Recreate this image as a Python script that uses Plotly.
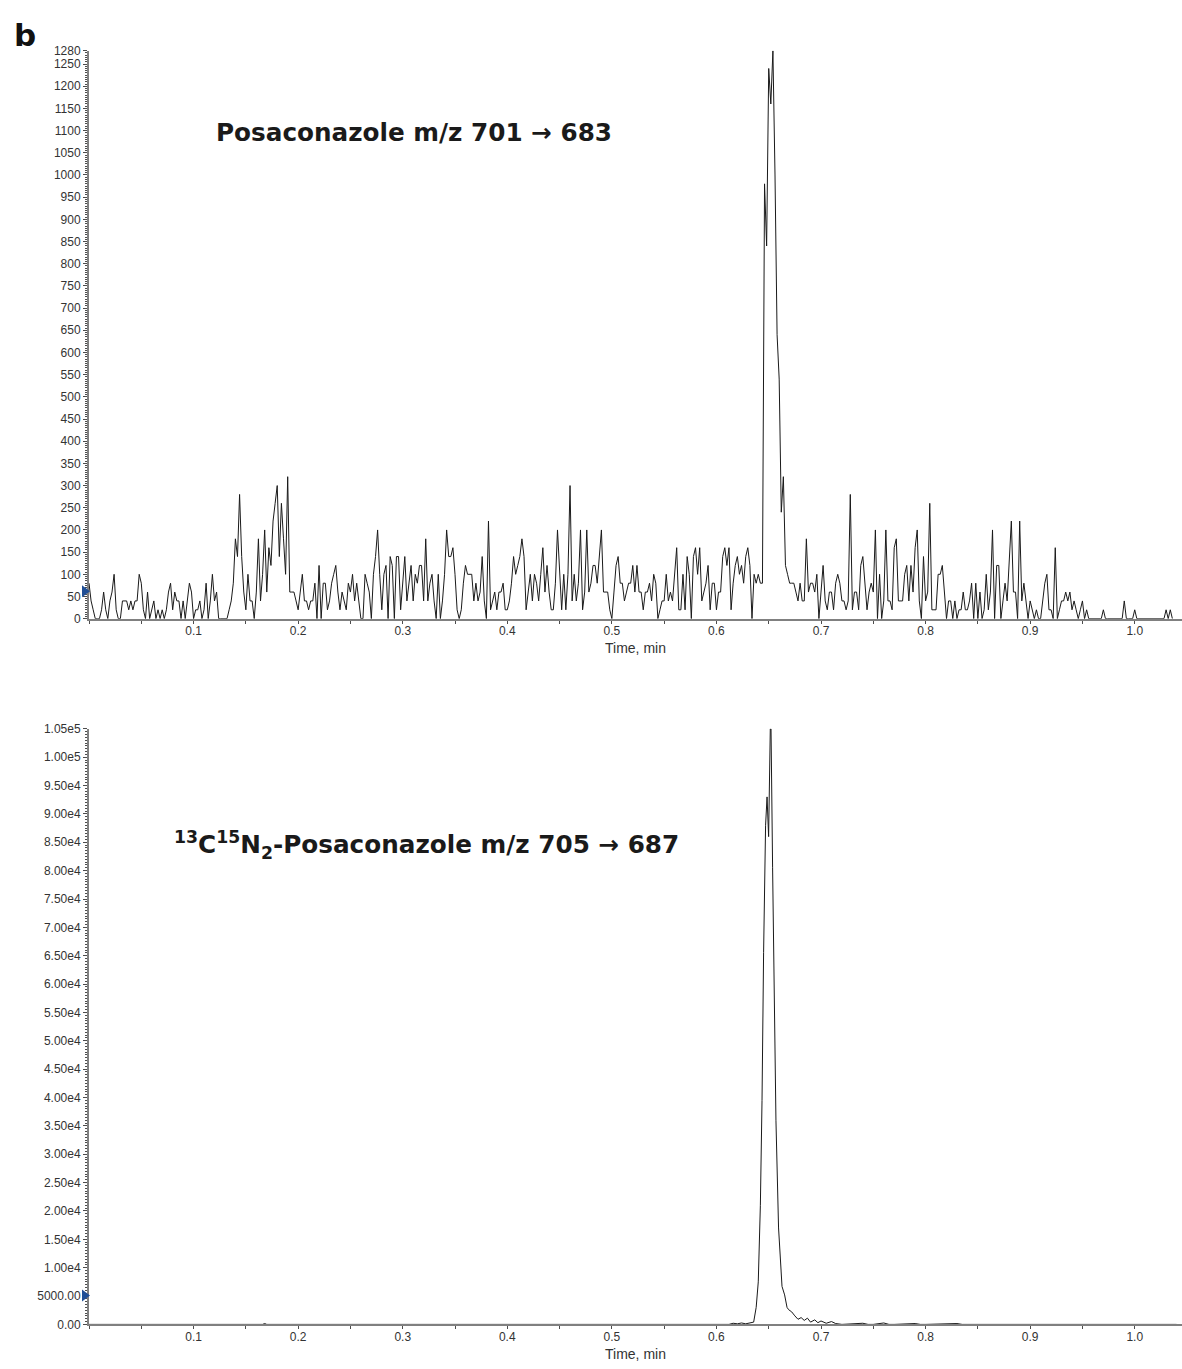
import plotly.graph_objects as go

# ---------------- data ----------------
# Analyte trace (Posaconazole m/z 701 -> 683), sampled every 0.002 min
DT = 0.002
top_counts = [
    80, 40, 20, 0, 0, 0, 20, 60, 20, 0,
    40, 60, 100, 20, 0, 0, 40, 40, 40, 20,
    40, 20, 40, 40, 100, 80, 20, 0, 60, 0,
    20, 40, 0, 20, 0, 20, 0, 20, 60, 80,
    20, 60, 40, 40, 0, 40, 0, 40, 80, 60,
    0, 20, 20, 40, 0, 20, 80, 0, 40, 100,
    40, 60, 0, 0, 0, 0, 0, 20, 40, 80,
    180, 140, 280, 140, 60, 20, 100, 40, 40, 0,
    60, 180, 40, 100, 200, 60, 160, 120, 220, 260,
    300, 140, 260, 180, 100, 320, 60, 60, 60, 40,
    20, 60, 100, 40, 40, 20, 40, 40, 80, 0,
    120, 0, 80, 80, 20, 40, 80, 100, 120, 60,
    20, 60, 40, 20, 80, 60, 100, 40, 80, 40,
    0, 0, 100, 80, 60, 0, 100, 140, 200, 100,
    20, 100, 120, 0, 140, 120, 0, 140, 140, 20,
    80, 140, 40, 80, 120, 40, 100, 80, 120, 120,
    40, 180, 40, 80, 100, 40, 0, 100, 0, 40,
    100, 200, 140, 140, 160, 100, 20, 0, 20, 80,
    120, 100, 100, 100, 40, 80, 40, 60, 140, 40,
    0, 220, 20, 40, 60, 20, 60, 60, 80, 20,
    20, 40, 80, 140, 100, 120, 140, 180, 140, 20,
    60, 100, 40, 100, 80, 40, 100, 160, 60, 120,
    60, 20, 20, 80, 200, 100, 20, 100, 20, 100,
    300, 40, 100, 40, 80, 200, 20, 60, 200, 60,
    80, 120, 120, 80, 140, 200, 60, 60, 60, 20,
    0, 60, 120, 140, 80, 80, 40, 60, 80, 80,
    120, 60, 120, 60, 60, 20, 60, 60, 80, 40,
    100, 80, 0, 20, 40, 40, 100, 40, 60, 40,
    100, 160, 20, 20, 100, 20, 140, 100, 0, 140,
    160, 100, 160, 40, 60, 80, 120, 20, 80, 80,
    20, 60, 60, 140, 160, 120, 160, 20, 80, 120,
    140, 100, 120, 80, 140, 160, 120, 0, 100, 80,
    100, 80, 80, 980, 840, 1240, 1160, 1280, 1000, 640,
    540, 240, 320, 120, 100, 80, 80, 80, 60, 40,
    80, 40, 40, 180, 60, 80, 80, 60, 100, 0,
    60, 120, 40, 20, 60, 60, 20, 80, 100, 80,
    40, 40, 20, 40, 280, 20, 60, 60, 20, 120,
    140, 80, 20, 60, 80, 60, 200, 0, 100, 0,
    40, 200, 40, 40, 20, 160, 180, 40, 40, 40,
    100, 120, 40, 120, 60, 160, 200, 40, 0, 140,
    40, 60, 260, 20, 20, 20, 100, 100, 120, 60,
    0, 40, 40, 0, 40, 0, 20, 20, 60, 20,
    20, 40, 80, 0, 80, 0, 60, 0, 20, 100,
    20, 60, 200, 0, 120, 120, 0, 40, 80, 40,
    120, 220, 60, 60, 0, 220, 40, 80, 40, 0,
    40, 20, 0, 20, 0, 0, 40, 80, 100, 20,
    20, 0, 160, 0, 20, 40, 40, 60, 40, 60,
    20, 40, 20, 0, 20, 40, 0, 20, 0, 0,
    0, 0, 0, 0, 0, 20, 0, 0, 0, 0,
    0, 0, 0, 0, 0, 40, 0, 0, 0, 0,
    20, 0, 0, 0, 0, 0, 0, 0, 0, 0,
    0, 0, 0, 0, 0, 20, 0, 20, 0,
]
top_time = [round(i * DT, 4) for i in range(len(top_counts))]

# Internal standard trace (13C15N2-Posaconazole m/z 705 -> 687)
is_time = [0.0, 0.166, 0.168, 0.170, 0.612, 0.616, 0.620, 0.624, 0.628, 0.632,
           0.6356, 0.638, 0.640, 0.642, 0.6436, 0.6451, 0.647, 0.6484, 0.6499,
           0.6515, 0.6522, 0.6537, 0.6553, 0.6569, 0.6594, 0.6627, 0.6652,
           0.6675, 0.669, 0.672, 0.675, 0.678, 0.681, 0.684, 0.687, 0.690,
           0.694, 0.697, 0.700, 0.705, 0.710, 0.714, 0.720, 0.740, 0.745,
           0.750, 0.760, 0.765, 0.770, 0.790, 0.795, 0.800, 0.830, 0.835,
           0.840, 1.040]
is_counts = [0, 0, 150, 0, 0, 200, 100, 250, 100, 200,
             400, 3000, 7500, 21000, 39500, 65600, 88000, 93000, 86000,
             105000, 105000, 80500, 58000, 36000, 17000, 6700, 5200,
             3000, 2600, 2200, 1500, 900, 1200, 700, 1100, 400,
             800, 300, 600, 200, 500, 150, 0, 200, 0,
             0, 250, 0, 0, 150, 0, 0, 150, 0,
             0, 0]

# threshold markers on the y axes
top_marker_y = [62]
is_marker_y = [5100]

# tick labels
x_tick_vals = [0.1, 0.2, 0.3, 0.4, 0.5, 0.6, 0.7, 0.8, 0.9, 1.0]
x_tick_text = ["0.1", "0.2", "0.3", "0.4", "0.5", "0.6", "0.7", "0.8", "0.9", "1.0"]
top_y_vals = list(range(0, 1251, 50)) + [1280]
top_y_text = [str(v) for v in top_y_vals]
is_y_vals = [0, 5000] + [v * 5000 for v in range(2, 22)]
is_y_text = ["0.00", "5000.00", "1.00e4", "1.50e4", "2.00e4", "2.50e4", "3.00e4",
             "3.50e4", "4.00e4", "4.50e4", "5.00e4", "5.50e4", "6.00e4", "6.50e4",
             "7.00e4", "7.50e4", "8.00e4", "8.50e4", "9.00e4", "9.50e4", "1.00e5",
             "1.05e5"]

# ---------------- figure ----------------
W, H = 1182, 1369
LINE = "#1a1a1a"
AXIS = "#808080"
TICKC = "#4d4d4d"
TICKFONT = dict(family="Liberation Sans, Arial, sans-serif", size=12, color="#333333")

fig = go.Figure()
fig.add_trace(go.Scatter(x=top_time, y=top_counts, mode="lines",
                         line=dict(color=LINE, width=1), xaxis="x", yaxis="y",
                         hoverinfo="skip", showlegend=False))
fig.add_trace(go.Scatter(x=is_time, y=is_counts, mode="lines",
                         line=dict(color=LINE, width=1), xaxis="x2", yaxis="y2",
                         hoverinfo="skip", showlegend=False))

XR = [0, 1.0452]


def xaxis_cfg(anchor):
    return dict(
        range=XR, anchor=anchor, domain=[0, 1],
        showline=True, linecolor=AXIS, linewidth=2,
        ticks="outside", ticklen=3, tickcolor=TICKC, tickwidth=1,
        tickmode="array", tickvals=x_tick_vals, ticktext=x_tick_text,
        tickfont=TICKFONT, showgrid=False, zeroline=False,
        ticklabelstandoff=-3,
        minor=dict(tickmode="linear", tick0=0, dtick=0.05, ticks="outside",
                   ticklen=3, tickcolor=TICKC, showgrid=False),
        title=dict(text="Time, min",
                   font=dict(family="Liberation Sans, Arial, sans-serif", size=14,
                             color="#333333"),
                   standoff=6),
    )


def yaxis_cfg(anchor, domain, yr, vals, text, minor_dtick):
    return dict(
        range=yr, anchor=anchor, domain=domain,
        showline=True, linecolor=AXIS, linewidth=2,
        ticks="outside", ticklen=4, tickcolor=TICKC, tickwidth=1,
        tickmode="array", tickvals=vals, ticktext=text,
        tickfont=TICKFONT, showgrid=False, zeroline=False,
        minor=dict(tickmode="linear", tick0=0, dtick=minor_dtick, ticks="outside",
                   ticklen=2, tickcolor=TICKC, showgrid=False),
    )


def py(px):
    return 1 - px / H


fig.update_layout(
    width=W, height=H,
    margin=dict(l=89, r=0, t=0, b=0),
    paper_bgcolor="white", plot_bgcolor="white",
    xaxis=xaxis_cfg("y"),
    yaxis=yaxis_cfg("x", [py(618), py(44.2)], [0, 1280], top_y_vals, top_y_text, 5),
    xaxis2=xaxis_cfg("y2"),
    yaxis2=yaxis_cfg("x2", [py(1331), py(729.3)], [0, 105000], is_y_vals, is_y_text, 500),
    showlegend=False,
)

# blue threshold triangles pointing at the y axes (pixel-sized shapes,
# x anchored on the paper so they are not clipped by the plot area)
TRI = "M-7,-6 L1,0 L-7,6 Z"
for yr, yv in (("y", top_marker_y[0]), ("y2", is_marker_y[0])):
    fig.add_shape(type="path", path=TRI, xref="paper", yref=yr,
                  xsizemode="pixel", ysizemode="pixel", xanchor=0, yanchor=yv,
                  fillcolor="#1f4f96", line=dict(width=0), layer="above")

BOLD = "DejaVu Sans, Verdana, sans-serif"
fig.add_annotation(text="<b>b</b>", xref="paper", yref="paper",
                   x=(25 - 89) / (W - 89), y=py(28), xanchor="center", yanchor="middle",
                   showarrow=False, font=dict(family=BOLD, size=31, color="#111111"))
fig.add_annotation(text="<b>Posaconazole m/z 701 → 683</b>", xref="paper", yref="paper",
                   x=(214 - 89) / (W - 89), y=py(127), xanchor="left", yanchor="middle",
                   showarrow=False, font=dict(family=BOLD, size=24.7, color="#1a1a1a"))
fig.add_annotation(text="<b><sup>13</sup>C<sup>15</sup>N<sub>2</sub>-Posaconazole m/z 705 → 687</b>",
                   xref="paper", yref="paper",
                   x=(172 - 89) / (W - 89), y=py(847), xanchor="left", yanchor="middle",
                   showarrow=False, font=dict(family=BOLD, size=24.7, color="#1a1a1a"))

fig.write_html("out.html")
